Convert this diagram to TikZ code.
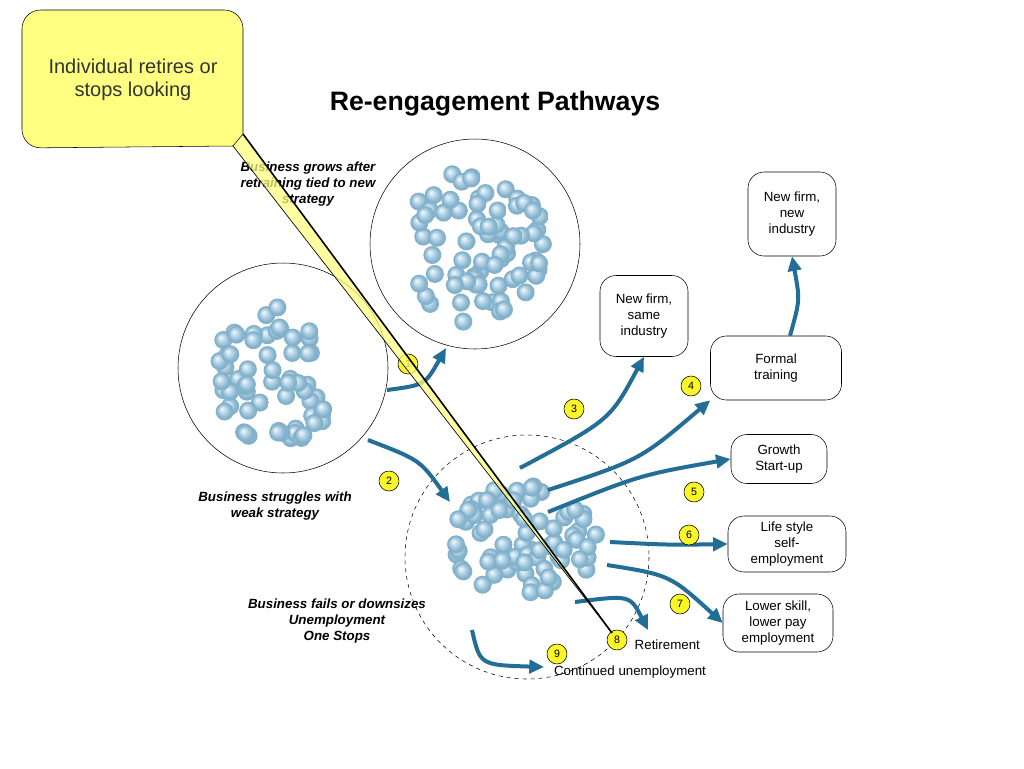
\documentclass[tikz,border=0pt]{standalone}
\usepackage{fontspec}
\setmainfont{Liberation Sans}
\usetikzlibrary{arrows.meta}
\definecolor{teal1}{RGB}{35,110,150}
\definecolor{callout}{RGB}{255,255,130}
\definecolor{badge}{RGB}{250,245,40}
\pgfdeclareradialshading{sphere}{\pgfpoint{-0.3cm}{0.3cm}}{rgb(0cm)=(0.95,0.98,1);rgb(0.35cm)=(0.72,0.84,0.91);rgb(0.7cm)=(0.52,0.70,0.80);rgb(1cm)=(0.5,0.68,0.78)}
\begin{document}
\begin{tikzpicture}[x=0.75pt,y=-0.75pt,
 path/.style={draw=teal1,line width=3pt,-{Triangle[length=11pt,width=10pt]}},
 badge/.style={circle,draw=black,fill=badge,inner sep=0pt,minimum size=15pt,font=\footnotesize},
 box/.style={draw,rounded corners=12pt,align=center,font=\normalsize,inner sep=3pt},
 lab/.style={font=\normalsize\bfseries\itshape,align=center}]
\useasboundingbox (0,0) rectangle (1024,768);
\fill[white] (0,0) rectangle (1024,768);
\node[font=\bfseries\fontsize{20}{24}\selectfont] (title) at (495,104) {Re-engagement Pathways};
% circles
\draw (475,244) circle[radius=105];
\draw (283,368) circle[radius=105];
\draw[dashed] (527,557) circle[radius=122];
\pgfmathsetseed{7}
\foreach \cx/\cy/\rx/\ry/\n in {475/246/70/78/75, 277/375/62/70/60, 525/540/78/55/75}{
  \foreach \i in {1,...,\n}{
    \pgfmathsetmacro\a{rand*180}
    \pgfmathsetmacro\r{sqrt(rnd)}
    \shade[shading=sphere] ({\cx+\r*\rx*cos(\a)},{\cy+\r*\ry*sin(\a)}) circle[radius=9];
  }
}
% boxes
\node[box,minimum width=88pt*0.75,minimum height=81pt*0.75] (b1) at (644,316) {New firm,\\same\\industry};
\node[box,minimum width=88pt*0.75,minimum height=84pt*0.75] (b2) at (792,214) {New firm,\\new\\industry};
\node[box,minimum width=131pt*0.75,minimum height=64pt*0.75] (b3) at (776,368) {Formal\\training};
\node[box,minimum width=96pt*0.75,minimum height=49pt*0.75] (b4) at (779,459) {Growth\\Start-up};
\node[box,minimum width=118pt*0.75,minimum height=56pt*0.75] (b5) at (787,544) {Life style\\self-\\employment};
\node[box,minimum width=110pt*0.75,minimum height=58pt*0.75] (b6) at (778,623) {Lower skill,\\lower pay\\employment};
% labels
\node[lab] at (308,184) {Business grows after\\retraining tied to new\\strategy};
\node[lab] at (275,506) {Business struggles with\\weak strategy};
\node[lab] at (337,621) {Business fails or downsizes\\Unemployment\\One Stops};
\node[anchor=west] (ret) at (630,645) {Retirement};
\node (cont) at (630,672) {Continued unemployment};
% arrows
\coordinate (s1) at (387,390); \coordinate (e1) at (446,348);
\draw[path] (s1) .. controls (425,385) .. (e1);
\coordinate (s2) at (368,440); \coordinate (e2) at (450,502);
\draw[path] (s2) .. controls (420,460) .. (e2);
\coordinate (s3) at (520,468);
\draw[path] (s3) .. controls (610,420) .. (b1.south);
\coordinate (s4) at (548,490);
\draw[path] (s4) .. controls (640,460) .. (b3.south west);
\coordinate (s5) at (548,512);
\draw[path] (s5) .. controls (640,475) .. (b4.west);
\coordinate (s6) at (610,542);
\draw[path] (s6) .. controls (670,545) .. (b5.west);
\coordinate (s7) at (607,565);
\draw[path] (s7) .. controls (670,575) .. (b6.west);
\coordinate (s8) at (575,602); \coordinate (e8) at (648,630);
\draw[path] (s8) .. controls (630,595) .. (e8);
\coordinate (s9) at (472,630); \coordinate (e9) at (544,667);
\draw[path] (s9) .. controls (480,665) .. (e9);
\draw[path] (b3.north) ++(14,0) .. controls (800,300) .. (b2.south);
% badges
\node[badge] at (408,364) {1};
\node[badge] at (389,481) {2};
\node[badge] at (574,409) {3};
\node[badge] at (691,386) {4};
\node[badge] at (694,492) {5};
\node[badge] at (689,535) {6};
\node[badge] at (680,604) {7};
\node[badge] (n8) at (617,640) {8};
\node[badge] at (557,654) {9};
% callout
\coordinate (tip) at (612,633);
\fill[callout,fill opacity=0.75] (243,134) -- (tip) -- (233,146) -- cycle;
\draw[line width=1.2pt] (243,134) -- (tip);
\draw[line width=0.5pt] (233,146) -- (tip);
\draw[fill=callout,rounded corners=14pt] (22,10) -- (243,10) [sharp corners]-- (243,134) -- (233,146) [rounded corners=14pt]-- (22,148) -- cycle;
\node[align=center,font=\fontsize{15}{17}\selectfont,text=black!80] (callt) at (133,80) {Individual retires or\\stops looking};
\end{tikzpicture}
\end{document}
